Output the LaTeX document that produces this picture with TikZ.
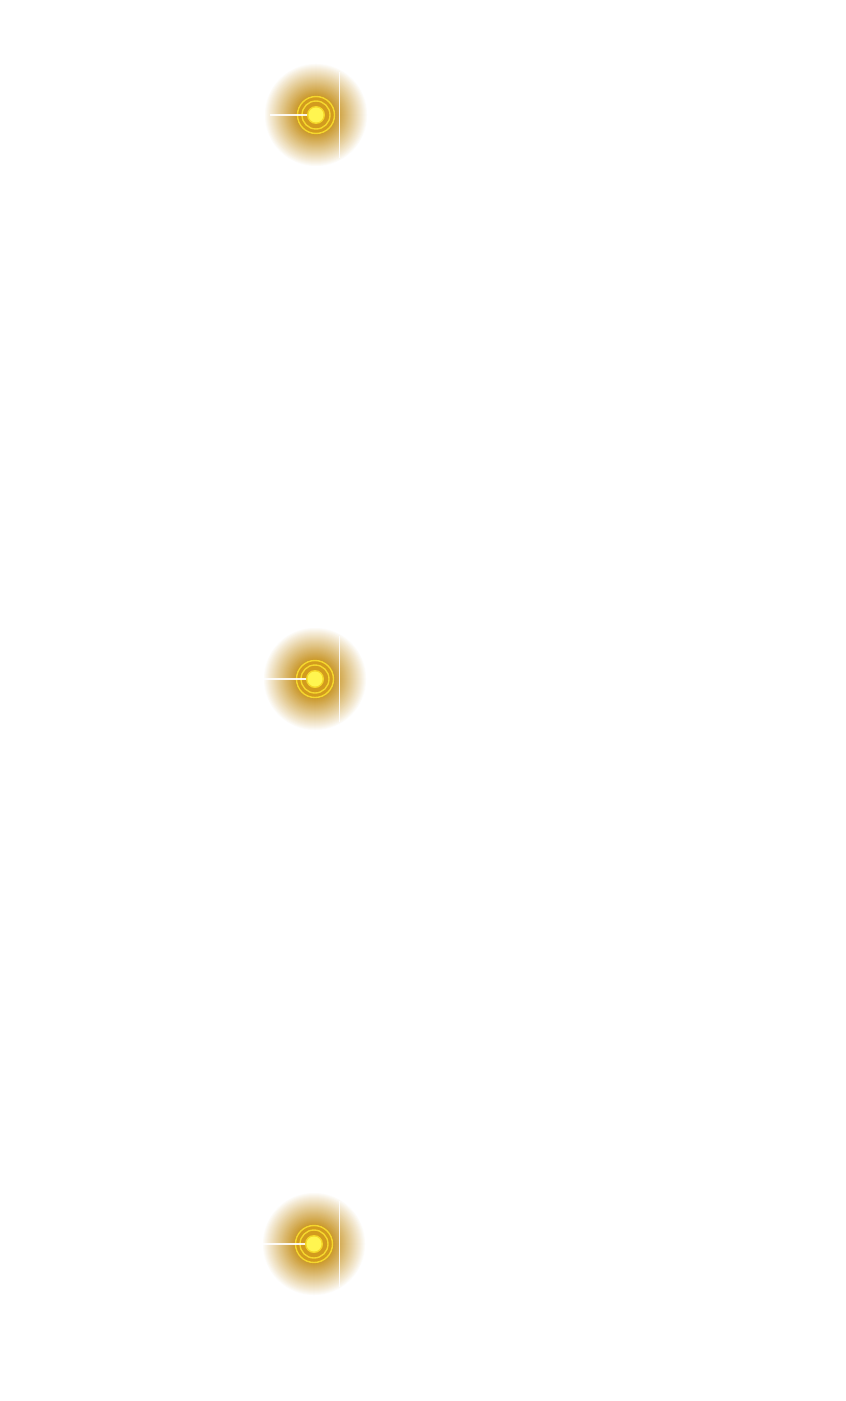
\documentclass[tikz,border=0pt]{standalone}
\definecolor{glowA}{RGB}{200,148,35}
\definecolor{coreY}{RGB}{255,245,80}
\definecolor{coreE}{RGB}{245,215,40}
\definecolor{ringY}{RGB}{245,215,45}
\definecolor{innerG}{RGB}{210,155,30}
\tikzset{
  ring/.style={draw=ringY, line width=1.4bp},
  leadline/.style={draw=white, line width=1.8bp, opacity=0.9},
  vline/.style={draw=white, line width=1.2bp, opacity=0.85},
}
\begin{document}
\begin{tikzpicture}[x=1bp,y=-1bp]
\useasboundingbox[fill=white] (0,0) rectangle (845,1401);
\foreach \n/\cx/\cy/\lx in {a/316/115/270, b/315/679/262, c/314/1244/262}{
  \coordinate (\n-c) at (\cx,\cy);
  \foreach \r in {52,51,...,18}{
    \pgfmathsetmacro\p{max(0,min(100,100*pow(max(0,(52-\r)/34),0.95)))}
    \fill[glowA!\p!white] (\n-c) circle[radius=\r];
  }
  \fill[innerG] (\n-c) circle[radius=18.5];
  \draw[ring] (\n-c) circle[radius=18.5];
  \draw[ring] (\n-c) circle[radius=14];
  \coordinate (\n-lead) at (\lx,\cy);
  \coordinate (\n-top) at (339.5,\cy-43);
  \coordinate (\n-bot) at (339.5,\cy+43);
  \draw[leadline] (\n-lead) -- (\n-c);
  \fill[coreE] (\n-c) circle[radius=9];
  \fill[coreY] (\n-c) circle[radius=7.5];
  \draw[vline] (\n-top) -- (\n-bot);
}
\end{tikzpicture}
\end{document}
